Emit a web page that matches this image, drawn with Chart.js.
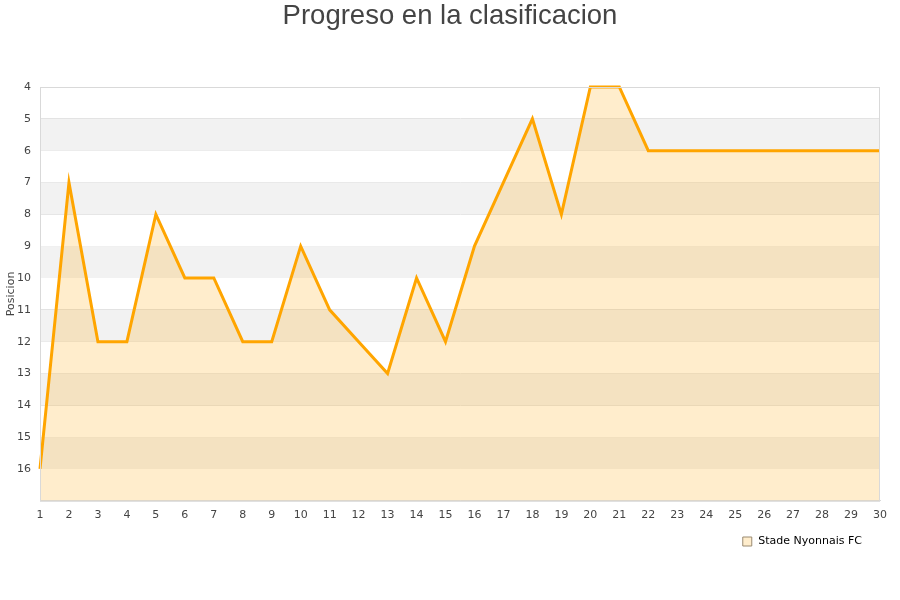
<!DOCTYPE html>
<html>
<head>
<meta charset="utf-8">
<script src="https://cdn.jsdelivr.net/npm/chart.js@4"></script>
<style>
  html, body { margin: 0; padding: 0; background: #fff; }
  #wrap { width: 900px; height: 600px; }
</style>
</head>
<body>
<div id="wrap"><canvas id="chart"></canvas></div>
<script>
// ===============================
// DATA
// ===============================
const jornadas = ["1","2","3","4","5","6","7","8","9","10","11","12","13","14","15",
                  "16","17","18","19","20","21","22","23","24","25","26","27","28","29","30"];
const posiciones = [16, 7, 12, 12, 8, 10, 10, 12, 12, 9, 11, 12, 13, 10, 12,
                    9, 7, 5, 8, 4, 4, 6, 6, 6, 6, 6, 6, 6, 6, 6];
const equipo = "Stade Nyonnais FC";
const titulo = "Progreso en la clasificacion";
const grayBands = [[5, 6], [7, 8], [9, 10], [11, 12], [13, 14], [15, 16]];

// ===============================
// BANDS + FRAME PLUGIN
// ===============================
const bandsPlugin = {
    id: "bands",
    beforeDatasetsDraw(chart) {
        const { ctx, chartArea, scales } = chart;
        ctx.save();
        ctx.fillStyle = "#f2f2f2";
        grayBands.forEach(([a, b]) => {
            const y1 = scales.y.getPixelForValue(a);
            const y2 = scales.y.getPixelForValue(b);
            ctx.fillRect(chartArea.left, y1, chartArea.right - chartArea.left, y2 - y1);
        });
        ctx.restore();
    },
    beforeDraw(chart) {
        // legend a bit in from the right, title centred on the whole canvas
        if (!chart._nudged) {
            if (chart.legend) chart.legend.right -= 12;
            if (chart.titleBlock) chart.titleBlock.right += 20;
            chart._nudged = true;
        }
    },
    afterDraw(chart) {
        const { ctx, chartArea } = chart;
        ctx.save();
        ctx.strokeStyle = "#d9d9d9";
        ctx.lineWidth = 1;
        ctx.strokeRect(chartArea.left + 0.5, chartArea.top + 0.5,
                       chartArea.right - chartArea.left - 1, chartArea.bottom - chartArea.top);
        ctx.restore();
    }
};

// ===============================
// CHART
// ===============================
new Chart(document.getElementById("chart"), {
    type: "line",
    data: {
        labels: jornadas,
        datasets: [{
            label: equipo,
            data: posiciones,
            borderColor: "#ffa500",
            backgroundColor: "rgba(255,165,0,0.2)",
            borderWidth: 3,
            tension: 0,
            pointRadius: 0,
            clip: 4,
            fill: "start"
        }]
    },
    options: {
        responsive: true,
        maintainAspectRatio: false,
        animation: false,
        layout: { padding: { left: 0, right: 20, top: 0, bottom: 43 } },
        plugins: {
            title: {
                display: true,
                text: titulo,
                color: "#444",
                font: { family: "'Liberation Sans', Arial, sans-serif", size: 27.5, weight: "normal" },
                padding: { top: 0, bottom: 54 }
            },
            legend: {
                position: "bottom",
                align: "end",
                labels: {
                    usePointStyle: true,
                    boxWidth: 13,
                    boxHeight: 9,
                    color: "#222",
                    font: { family: "'DejaVu Sans', sans-serif", size: 11 },
                    padding: 6,
                    generateLabels(chart) {
                        return [{
                            text: equipo,
                            fillStyle: "rgba(255,165,0,0.2)",
                            strokeStyle: "#9a8a70",
                            lineWidth: 1,
                            pointStyle: "rect",
                            datasetIndex: 0
                        }];
                    }
                }
            },
            tooltip: { enabled: false }
        },
        scales: {
            x: {
                offset: false,
                grid: { display: false, drawTicks: false },
                border: { color: "#d9d9d9" },
                ticks: {
                    color: "#444",
                    padding: 8,
                    maxRotation: 0,
                    autoSkip: false,
                    font: { family: "'DejaVu Sans', sans-serif", size: 11 }
                }
            },
            y: {
                reverse: true,
                min: 4,
                max: 17,
                afterFit(scale) { scale.width = 40; },
                grid: { color: "#e0e0e0", drawTicks: false },
                border: { color: "#d9d9d9" },
                title: {
                    display: true,
                    text: "Posicion",
                    color: "#444",
                    font: { family: "'DejaVu Sans', sans-serif", size: 11 },
                    padding: { top: 5, bottom: 0 }
                },
                ticks: {
                    stepSize: 1,
                    color: "#444",
                    padding: 9,
                    font: { family: "'DejaVu Sans', sans-serif", size: 11 },
                    callback: v => (v === 17 ? "" : v)
                }
            }
        }
    },
    plugins: [bandsPlugin]
});
</script>
</body>
</html>
